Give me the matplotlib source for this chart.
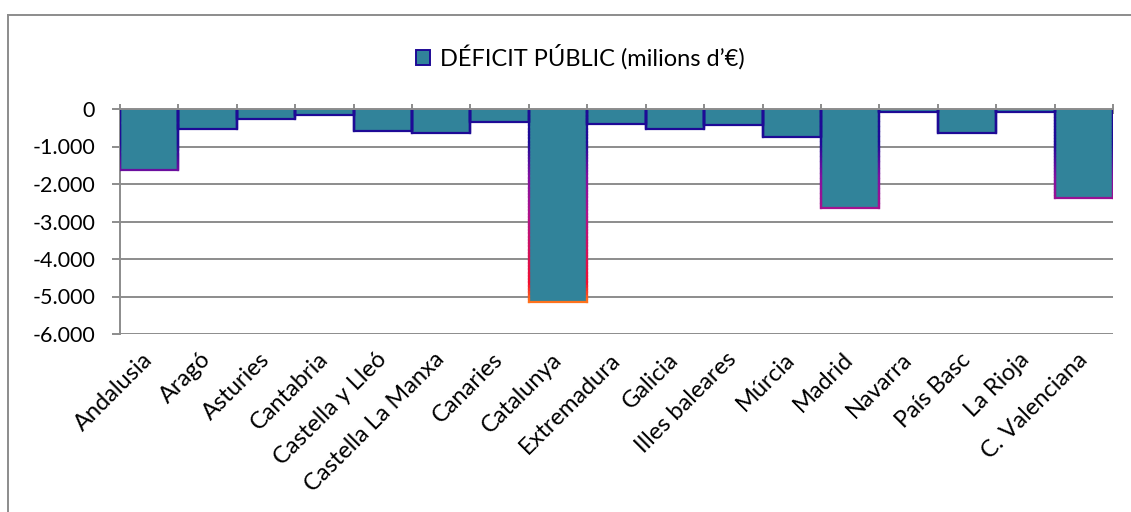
import numpy as np
import matplotlib.pyplot as plt
from matplotlib.collections import LineCollection
from matplotlib.colors import LinearSegmentedColormap, Normalize
from matplotlib.patches import Patch
from matplotlib.ticker import FuncFormatter

plt.rcParams['font.family'] = ['Lato', 'DejaVu Sans']

regions = ['Andalusia', 'Aragó', 'Asturies', 'Cantabria', 'Castella y Lleó',
           'Castella La Manxa', 'Canaries', 'Catalunya', 'Extremadura', 'Galicia',
           'Illes baleares', 'Múrcia', 'Madrid', 'Navarra', 'País Basc',
           'La Rioja', 'C. Valenciana']
deficit = [-1630, -540, -260, -150, -590, -650, -355, -5150, -390, -540,
           -435, -750, -2630, -90, -630, -80, -2360]

fill = '#31839A'
grid_c = '#8C8C8C'
# outline colour runs from navy near zero to orange at the deepest values
edge_cmap = LinearSegmentedColormap.from_list(
    'edge', [(0.0, '#FF7A1A'), (0.1, '#F01030'), (0.45, '#B0128A'),
             (0.65, '#8010A0'), (0.82, '#1E0A96'), (1.0, '#1E0A96')])
edge_norm = Normalize(-5200, 0)

fig = plt.figure(figsize=(11.31, 5.12), dpi=100)
ax = fig.add_axes([120 / 1131, 1 - 334 / 512, (1113 - 120) / 1131, 225 / 512])

x = np.arange(len(regions))
bars = ax.bar(x, deficit, width=1.0, color=fill, edgecolor='none', zorder=2)

# gradient outline: left side, bottom and right side of each bar
segs, vals = [], []
for b in bars:
    x0, x1 = b.get_x(), b.get_x() + b.get_width()
    y1 = b.get_y() + b.get_height()
    ys = np.linspace(0, y1, 60)
    for xx in (x0, x1):
        for a, c in zip(ys[:-1], ys[1:]):
            segs.append([(xx, a), (xx, c)])
            vals.append((a + c) / 2)
    segs.append([(x0, y1), (x1, y1)])
    vals.append(y1)
lc = LineCollection(segs, cmap=edge_cmap, norm=edge_norm, linewidths=1.6,
                    zorder=3, capstyle='projecting')
lc.set_array(np.array(vals))
ax.add_collection(lc)

ax.set_xlim(-0.5, len(regions) - 0.5)
ax.set_ylim(-6000, 0)
ax.set_yticks(np.arange(-6000, 1, 1000))
ax.yaxis.set_major_formatter(
    FuncFormatter(lambda v, p: f'{int(v):,}'.replace(',', '.')))
ax.grid(axis='y', color=grid_c, linewidth=1.4, zorder=1)
ax.set_axisbelow(True)

for s in ('right', 'bottom'):
    ax.spines[s].set_visible(False)
for s in ('left', 'top'):
    ax.spines[s].set_color(grid_c)
    ax.spines[s].set_linewidth(1.4)
ax.spines['top'].set_zorder(4)

ax.set_xticks(x)
ax.set_xticklabels(regions, rotation=45, ha='right', va='center',
                   rotation_mode='anchor', fontsize=17)
ax.set_xticks(np.arange(-0.5, len(regions)), minor=True)
ax.tick_params(axis='x', which='major', length=0, pad=16)
ax.tick_params(axis='x', which='minor', top=True, bottom=False,
               direction='inout', length=7, color=grid_c, width=1.4)
ax.tick_params(axis='y', length=6, color=grid_c, width=1.4, labelsize=15.5,
               pad=12)

handle = Patch(facecolor=fill, edgecolor='#1E0A96', linewidth=1.4)
fig.legend([handle], ['DÉFICIT PÚBLIC (milions d’€)'], loc='center',
           bbox_to_anchor=(0.513, 1 - 57 / 512), frameon=False, fontsize=17,
           handlelength=0.6, handleheight=0.6, handletextpad=0.4)

# chart frame
fig.add_artist(plt.Line2D([8 / 1131, 1], [1 - 15 / 512] * 2, color=grid_c,
                          linewidth=1.4, transform=fig.transFigure))
fig.add_artist(plt.Line2D([8 / 1131] * 2, [0, 1 - 15 / 512], color=grid_c,
                          linewidth=1.4, transform=fig.transFigure))

fig.savefig('out.png', dpi=100)
